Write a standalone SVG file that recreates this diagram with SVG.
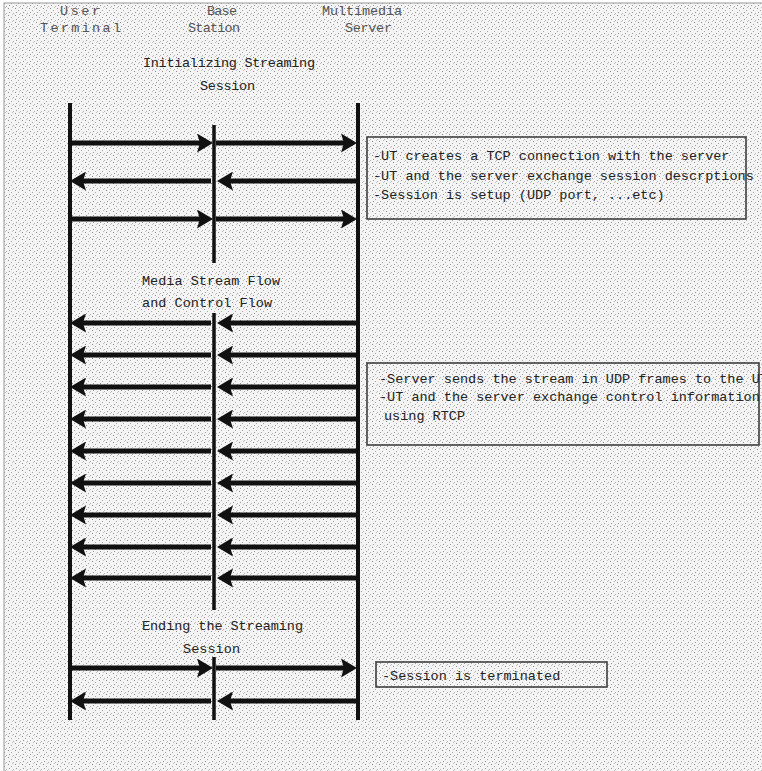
<svg xmlns="http://www.w3.org/2000/svg" width="762" height="771" viewBox="0 0 762 771">
<style>
.life{stroke:#111;stroke-width:4;fill:none}
.bs{stroke:#111;stroke-width:3.5;fill:none}
.msg{stroke:#111;stroke-width:5;fill:none;marker-end:url(#head)}
.hdr{font-family:"Liberation Mono","DejaVu Sans Mono",monospace;font-size:13.5px;fill:#555}
.lbl{font-family:"Liberation Mono","DejaVu Sans Mono",monospace;font-size:13.5px;fill:#222}
.box{fill:none;stroke:#333;stroke-width:1.5}
</style>
<defs>
<pattern id="dots" width="7" height="7" patternUnits="userSpaceOnUse">
<rect width="7" height="7" fill="#f4f4f4"/>
<rect x="1" y="1" width="1" height="1" fill="#8a8a8a"/>
<rect x="4" y="3" width="1" height="1" fill="#a5a5a5"/>
<rect x="2" y="5" width="1" height="1" fill="#989898"/>
<rect x="6" y="6" width="1" height="1" fill="#b4b4b4"/>
<rect x="5" y="0" width="1" height="1" fill="#c0c0c0"/>
</pattern>
<marker id="head" markerUnits="userSpaceOnUse" markerWidth="16" markerHeight="19" viewBox="0 0 16 19" refX="8" refY="9.5" orient="auto">
<path d="M0,0 L16,9.5 L0,19 L3,9.5 z" fill="#111"/>
</marker>
</defs>
<rect width="762" height="771" fill="#fff"/>
<rect x="4" y="3" width="770" height="775" fill="url(#dots)" stroke="#999" stroke-width="1"/>

<g id="user-terminal">
<text class="hdr" x="60" y="15" textLength="40">User</text>
<text class="hdr" x="40" y="32" textLength="81">Terminal</text>
<line class="life" x1="70" y1="103" x2="70" y2="720"/>
</g>
<g id="base-station">
<text class="hdr" x="207" y="15" textLength="30">Base</text>
<text class="hdr" x="188" y="32" textLength="52">Station</text>
<line class="bs" x1="214" y1="125" x2="214" y2="263"/>
<line class="bs" x1="214" y1="313" x2="214" y2="610"/>
<line class="bs" x1="214" y1="657" x2="214" y2="720"/>
</g>
<g id="multimedia-server">
<text class="hdr" x="322" y="15" textLength="80">Multimedia</text>
<text class="hdr" x="345" y="32" textLength="47">Server</text>
<line class="life" x1="358" y1="103" x2="358" y2="720"/>
</g>

<g id="phase-init">
<text class="lbl" x="143" y="67" textLength="172">Initializing Streaming</text>
<text class="lbl" x="200" y="90" textLength="55">Session</text>
</g>
<g id="phase-stream">
<text class="lbl" x="142" y="285" textLength="138">Media Stream Flow</text>
<text class="lbl" x="142" y="307" textLength="130">and Control Flow</text>
</g>
<g id="phase-end">
<text class="lbl" x="142" y="630" textLength="161">Ending the Streaming</text>
<text class="lbl" x="183" y="653" textLength="57">Session</text>
</g>

<g id="note-init">
<rect class="box" x="367" y="137" width="379" height="82"/>
<text class="lbl" x="373" y="160">-UT creates a TCP connection with the server</text>
<text class="lbl" x="373" y="179.5">-UT and the server exchange session descrptions</text>
<text class="lbl" x="373" y="199">-Session is setup (UDP port, ...etc)</text>
</g>
<g id="note-stream">
<rect class="box" x="367" y="363" width="392" height="82"/>
<text class="lbl" x="379" y="383">-Server sends the stream in UDP frames to the UT</text>
<text class="lbl" x="379" y="401">-UT and the server exchange control information</text>
<text class="lbl" x="384" y="420">using RTCP</text>
</g>
<g id="note-end">
<rect class="box" x="376" y="662" width="231" height="25"/>
<text class="lbl" x="382" y="680">-Session is terminated</text>
</g>

<g id="connectors">
<line class="msg" x1="70" y1="143" x2="205" y2="143"/>
<line class="msg" x1="216" y1="143" x2="349" y2="143"/>
<line class="msg" x1="358" y1="181" x2="225" y2="181"/>
<line class="msg" x1="211" y1="181" x2="78" y2="181"/>
<line class="msg" x1="70" y1="219" x2="205" y2="219"/>
<line class="msg" x1="216" y1="219" x2="349" y2="219"/>

<line class="msg" x1="358" y1="323" x2="225" y2="323"/>
<line class="msg" x1="211" y1="323" x2="78" y2="323"/>
<line class="msg" x1="358" y1="355" x2="225" y2="355"/>
<line class="msg" x1="211" y1="355" x2="78" y2="355"/>
<line class="msg" x1="358" y1="387" x2="225" y2="387"/>
<line class="msg" x1="211" y1="387" x2="78" y2="387"/>
<line class="msg" x1="358" y1="419" x2="225" y2="419"/>
<line class="msg" x1="211" y1="419" x2="78" y2="419"/>
<line class="msg" x1="358" y1="451" x2="225" y2="451"/>
<line class="msg" x1="211" y1="451" x2="78" y2="451"/>
<line class="msg" x1="358" y1="483" x2="225" y2="483"/>
<line class="msg" x1="211" y1="483" x2="78" y2="483"/>
<line class="msg" x1="358" y1="515" x2="225" y2="515"/>
<line class="msg" x1="211" y1="515" x2="78" y2="515"/>
<line class="msg" x1="358" y1="547" x2="225" y2="547"/>
<line class="msg" x1="211" y1="547" x2="78" y2="547"/>
<line class="msg" x1="358" y1="578" x2="225" y2="578"/>
<line class="msg" x1="211" y1="578" x2="78" y2="578"/>

<line class="msg" x1="70" y1="668" x2="205" y2="668"/>
<line class="msg" x1="216" y1="668" x2="349" y2="668"/>
<line class="msg" x1="358" y1="701" x2="225" y2="701"/>
<line class="msg" x1="211" y1="701" x2="78" y2="701"/>
</g>
</svg>
